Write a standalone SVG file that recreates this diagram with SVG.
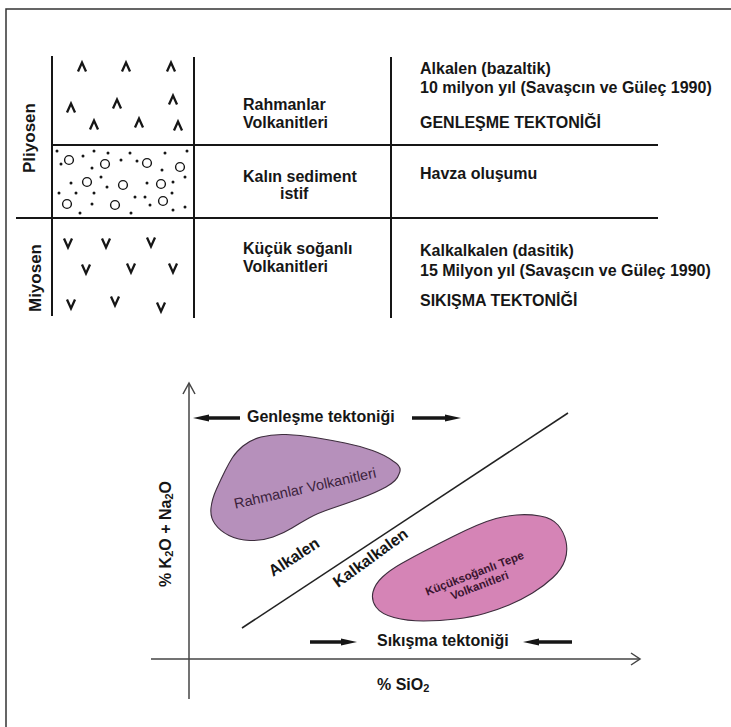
<svg xmlns="http://www.w3.org/2000/svg" xmlns:xlink="http://www.w3.org/1999/xlink" width="731" height="727" viewBox="0 0 731 727">
<defs>
<style>
.t{font-family:"Liberation Sans",Arial,sans-serif;font-weight:bold;font-size:16px;fill:#161616}
.tr{font-family:"Liberation Sans",Arial,sans-serif;font-size:14.5px;fill:#3b1f3b}
.tb{font-family:"Liberation Sans",Arial,sans-serif;font-weight:bold;font-size:11.5px;fill:#3b1530}
.grid{stroke:#161616;stroke-width:2;fill:none}
.sym{stroke:#161616;stroke-width:2.3;fill:none;stroke-linejoin:miter}
.circ{stroke:#161616;stroke-width:1.4;fill:none}
.dot{fill:#161616}
.axis{stroke:#444;stroke-width:1.5;fill:none}
.tect{stroke:#161616;stroke-width:3.5;marker-end:url(#tip)}
.blob{stroke:#3d2d3d;stroke-width:1.1}
</style>
<marker id="tip" viewBox="0 -4 16 8" refX="4" refY="0" markerWidth="16" markerHeight="8" markerUnits="userSpaceOnUse" orient="auto">
<path d="M0,-3.5 L16,0 L0,3.5 Z" fill="#161616"/>
</marker>
<path id="car" d="M-4,4.5 L0,-4.5 L4,4.5"/>
<path id="vee" d="M-4,-4.5 L0,4.5 L4,-4.5"/>
</defs>
<rect width="731" height="727" fill="#fff"/>
<path d="M6,727 V9 H731" fill="none" stroke="#333" stroke-width="1.5"/>

<g id="table-lines" class="grid">
<line x1="52" y1="56" x2="52" y2="316"/>
<line x1="194" y1="57" x2="194" y2="318"/>
<line x1="391" y1="57" x2="391" y2="318"/>
<line x1="52" y1="145" x2="658" y2="145"/>
<line x1="16" y1="218" x2="658" y2="218"/>
</g>

<g id="age-pliyosen">
<text class="t" style="font-size:17px" x="35" y="138" text-anchor="middle" transform="rotate(-90 35 138)">Pliyosen</text>
</g>
<g id="age-miyosen">
<text class="t" style="font-size:17px" x="41" y="278" text-anchor="middle" transform="rotate(-90 41 278)">Miyosen</text>
</g>

<g id="litho-volcanic-alkaline" class="sym">
<use xlink:href="#car" x="82" y="67"/><use xlink:href="#car" x="126" y="67"/><use xlink:href="#car" x="171" y="67"/>
<use xlink:href="#car" x="71" y="108"/><use xlink:href="#car" x="117" y="104"/><use xlink:href="#car" x="173" y="100"/>
<use xlink:href="#car" x="94" y="125"/><use xlink:href="#car" x="139" y="123"/><use xlink:href="#car" x="178" y="126"/>
</g>

<g id="litho-sediment">
<g class="circ">
<circle cx="69" cy="160" r="4.4"/><circle cx="105" cy="164" r="4.4"/><circle cx="147" cy="163" r="4.4"/><circle cx="180" cy="167" r="4.4"/>
<circle cx="87" cy="182" r="4.4"/><circle cx="123" cy="185" r="4.4"/><circle cx="161" cy="184" r="4.4"/>
<circle cx="67" cy="204" r="4.4"/><circle cx="115" cy="205" r="4.4"/><circle cx="163" cy="201" r="4.4"/>
</g>
<g class="dot">
<circle cx="57" cy="151" r="1.5"/><circle cx="83" cy="156" r="1.5"/><circle cx="94" cy="151" r="1.5"/><circle cx="108" cy="153" r="1.5"/>
<circle cx="130" cy="153" r="1.5"/><circle cx="165" cy="153" r="1.5"/><circle cx="187" cy="151" r="1.5"/><circle cx="61" cy="164" r="1.5"/>
<circle cx="92" cy="168" r="1.5"/><circle cx="121" cy="160" r="1.5"/><circle cx="137" cy="161" r="1.5"/><circle cx="162" cy="170" r="1.5"/>
<circle cx="185" cy="177" r="1.5"/><circle cx="71" cy="183" r="1.5"/><circle cx="101" cy="177" r="1.5"/><circle cx="147" cy="183" r="1.5"/>
<circle cx="173" cy="182" r="1.5"/><circle cx="59" cy="193" r="1.5"/><circle cx="76" cy="193" r="1.5"/><circle cx="94" cy="193" r="1.5"/>
<circle cx="135" cy="197" r="1.5"/><circle cx="145" cy="197" r="1.5"/><circle cx="172" cy="193" r="1.5"/><circle cx="80" cy="213" r="1.5"/>
<circle cx="92" cy="204" r="1.5"/><circle cx="131" cy="213" r="1.5"/><circle cx="150" cy="205" r="1.5"/><circle cx="173" cy="210" r="1.5"/>
<circle cx="185" cy="207" r="1.5"/><circle cx="107" cy="187" r="1.5"/>
</g>
</g>

<g id="litho-volcanic-calcalkaline" class="sym">
<use xlink:href="#vee" x="68" y="243"/><use xlink:href="#vee" x="106" y="243"/><use xlink:href="#vee" x="151" y="242"/>
<use xlink:href="#vee" x="86" y="269"/><use xlink:href="#vee" x="131" y="268"/><use xlink:href="#vee" x="173" y="268"/>
<use xlink:href="#vee" x="71" y="304"/><use xlink:href="#vee" x="115" y="301"/><use xlink:href="#vee" x="161" y="307"/>
</g>

<g id="unit-rahmanlar">
<text class="t" x="243" y="110">Rahmanlar</text>
<text class="t" x="243" y="128">Volkanitleri</text>
</g>
<g id="unit-sediment">
<text class="t" x="243" y="182">Kalın sediment</text>
<text class="t" x="280" y="199">istif</text>
</g>
<g id="unit-kucuksoganli">
<text class="t" x="243" y="254">Küçük soğanlı</text>
<text class="t" x="243" y="272">Volkanitleri</text>
</g>

<g id="desc-pliyosen">
<text class="t" x="420" y="74">Alkalen (bazaltik)</text>
<text class="t" x="420" y="93">10 milyon yıl (Savaşcın ve Güleç 1990)</text>
<text class="t" x="420" y="128">GENLEŞME TEKTONİĞİ</text>
</g>
<g id="desc-havza">
<text class="t" x="420" y="179">Havza oluşumu</text>
</g>
<g id="desc-miyosen">
<text class="t" x="420" y="256">Kalkalkalen (dasitik)</text>
<text class="t" x="420" y="276">15 Milyon yıl (Savaşcın ve Güleç 1990)</text>
<text class="t" x="420" y="306">SIKIŞMA TEKTONİĞİ</text>
</g>

<g id="blob-rahmanlar">
<path class="blob" fill="#b690bb" d="M243,446 Q250,440 261,437 Q272,434 286,434.5 Q300,435 315,437.5 Q330,440 345,443 Q360,446 372.5,450.5 Q385,455 393,461 Q403,467 399,474 Q397,481 386,487 Q375,493 360,498.5 Q345,504 331.5,508.5 Q318,513 309,518 Q300,523 292,528 Q284,533 273,537 Q262,541 250,540.5 Q238,540 229,535.5 Q220,531 215,524 Q210,517 211,508 Q212,499 216.5,489 Q221,479 225,471 Q229,463 232.5,457.5 Q236,452 243,446 Z"/>
<text class="tr" x="306" y="493" text-anchor="middle" transform="rotate(-12.5 306 493)">Rahmanlar Volkanitleri</text>
</g>

<g id="blob-kucuksoganli">
<path class="blob" fill="#d584b6" d="M496,518.5 Q505,516 516.5,515 Q528,514 540,516 Q552,518 558,525 Q564,532 566,541.5 Q568,551 565,560 Q562,569 553,577.5 Q544,586 532.5,593 Q521,600 509,605 Q497,610 484.5,613.5 Q472,617 456,619 Q440,621 423.5,621 Q407,621 394,617.5 Q381,614 376,607 Q371,600 373,592 Q375,584 382.5,577 Q390,570 401.5,563.5 Q413,557 426.5,550 Q440,543 453,536.5 Q466,530 476.5,525.5 Q487,521 496,518.5 Z"/>
<text class="tb" x="476" y="577" text-anchor="middle" transform="rotate(-21 476 577)">Küçüksoğanlı Tepe</text>
<text class="tb" x="481" y="589" text-anchor="middle" transform="rotate(-21 481 589)">Volkanitleri</text>
</g>

<g id="connectors">
<g id="axes" class="axis">
<line x1="189" y1="384" x2="189" y2="699"/>
<polyline points="183,394 189,383 195,394"/>
<line x1="151" y1="659" x2="640" y2="659"/>
<polyline points="631,653 640,659 631,665"/>
</g>
<line id="divider" x1="242" y1="628" x2="568" y2="413" stroke="#222" stroke-width="1.5"/>
<g id="tectonic-arrows">
<line class="tect" x1="240" y1="418" x2="205" y2="418"/>
<line class="tect" x1="412" y1="418" x2="449" y2="418"/>
<line class="tect" x1="310" y1="642" x2="345" y2="642"/>
<line class="tect" x1="572" y1="642" x2="535" y2="642"/>
</g>
</g>

<g id="labels">
<text class="t" x="247" y="422">Genleşme tektoniği</text>
<text class="t" x="377" y="646">Sıkışma tektoniği</text>
<text class="t" x="377" y="690">% SiO<tspan style="font-size:11px" dy="1.5">2</tspan></text>
<text class="t" x="171" y="534" text-anchor="middle" transform="rotate(-90 171 534)">% K<tspan style="font-size:11px" dy="1.5">2</tspan><tspan dy="-1.5">O + Na</tspan><tspan style="font-size:11px" dy="1.5">2</tspan><tspan dy="-1.5">O</tspan></text>
<text class="t" x="273" y="577" transform="rotate(-33 273 577)">Alkalen</text>
<text class="t" x="338" y="588" transform="rotate(-36 338 588)">Kalkalkalen</text>
</g>
</svg>
